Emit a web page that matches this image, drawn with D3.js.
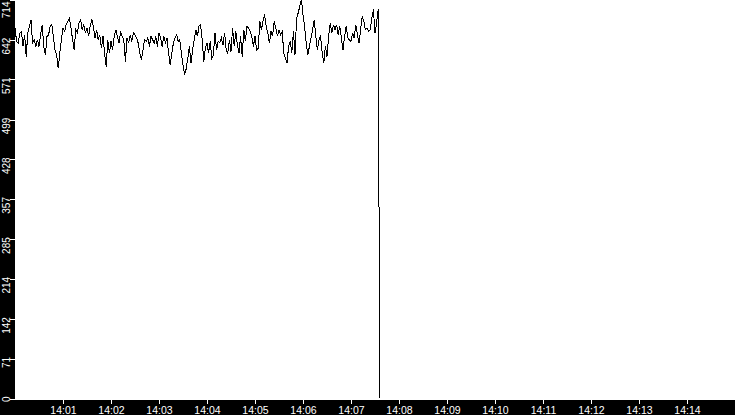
<!DOCTYPE html>
<html>
<head>
<meta charset="utf-8">
<script src="https://cdn.jsdelivr.net/npm/d3@7"></script>
<style>
  html, body { margin: 0; padding: 0; background: #fff; }
  svg { display: block; }
</style>
</head>
<body>
<svg id="chart" width="735" height="415"></svg>
<script>
// ---- data ----
const startTime = "14:00:00";
const sampleSeconds = 2;
const values = [
  663,639,636,654,657,630,651,612,654,666,
  677,636,642,630,642,630,651,669,630,615,
  648,651,666,669,648,624,615,591,618,642,
  663,657,669,675,681,663,642,624,660,654,
  672,678,660,669,654,663,648,666,679,666,
  645,660,642,651,627,648,618,594,642,618,
  639,624,648,660,648,636,657,648,642,603,
  645,636,651,639,654,651,
  645,636,618,606,624,642,639,645,630,648,
  642,636,648,630,654,645,630,648,636,645,
  618,597,618,636,645,651,639,642,618,597,
  579,590,609,630,600,624,642,660,648,666,669,
  642,603,627,636,618,639,609,615,654,624,
  639,636,645,633,654,624,618,642,621,663,
  630,657,633,618,648,612,660,639,667,662,657,
  648,630,648,624,
  627,675,660,675,687,666,654,636,657,648,
  675,663,648,660,651,657,618,609,600,630,
  639,618,657,615,681,690,702,714,687,666,
  636,615,630,645,660,678,648,624,642,648,
  618,600,630,612,648,672,654,669,660,669,
  651,666,645,624,648,666,645,642,639,654,
  645,669,651,636,660,684,675,660,663,657,
  660,681,696,654,672,697,
  0
];
const yTicks = [0,71,142,214,285,357,428,499,571,642,714];
const xTickLabels = ["14:01","14:02","14:03","14:04","14:05","14:06","14:07","14:08","14:09","14:10","14:11","14:12","14:13","14:14"];
const xDomainLabels = ["14:00","14:15"];

// ---- build ----
const parse = s => {
  const p = s.split(":").map(Number);
  return new Date(2020, 0, 1, p[0], p[1], p[2] || 0);
};
const t0 = parse(startTime);
const data = values.map((v, i) => ({ t: new Date(t0.getTime() + i * sampleSeconds * 1000), v }));

const W = 735, H = 415;
const left = 15, bottom = 400;

const svg = d3.select("#chart");

const x = d3.scaleTime()
  .domain(xDomainLabels.map(parse))
  .range([left, W]);
const y = d3.scaleLinear()
  .domain([0, 714])
  .range([398.5, -0.5]);

// black bands
svg.append("rect").attr("x", 0).attr("y", 0).attr("width", left).attr("height", H).attr("fill", "#000");
svg.append("rect").attr("x", 0).attr("y", bottom).attr("width", W).attr("height", H - bottom).attr("fill", "#000");

// line
const line = d3.line().x(d => x(d.t)).y(d => y(d.v));
svg.append("path")
  .datum(data)
  .attr("d", line)
  .attr("fill", "none")
  .attr("stroke", "#000")
  .attr("stroke-width", 1)
  .attr("shape-rendering", "crispEdges");

// x axis
const xAxis = d3.axisBottom(x)
  .tickValues(xTickLabels.map(parse))
  .tickFormat(d3.timeFormat("%H:%M"))
  .tickSize(4)
  .tickSizeOuter(0)
  .tickPadding(2);
const gx = svg.append("g").attr("transform", `translate(0,${bottom})`).call(xAxis);
gx.select(".domain").remove();
gx.selectAll(".tick line").attr("stroke", "#fff").attr("shape-rendering", "crispEdges");
gx.selectAll(".tick text")
  .attr("fill", "#fff")
  .attr("font-family", "Liberation Sans, Arial, sans-serif")
  .attr("font-size", 10.5)
  .attr("dy", null)
  .attr("y", 14);

// y axis
const yAxis = d3.axisLeft(y)
  .tickValues(yTicks)
  .tickFormat(d3.format("d"))
  .tickSize(5)
  .tickSizeOuter(0);
const gy = svg.append("g").attr("transform", `translate(${left},0)`).call(yAxis);
gy.select(".domain").remove();
gy.selectAll(".tick line").attr("stroke", "#fff").attr("shape-rendering", "crispEdges");
gy.selectAll(".tick text")
  .attr("fill", "#fff")
  .attr("font-family", "Liberation Sans, Arial, sans-serif")
  .attr("font-size", 10)
  .attr("x", null)
  .attr("dy", null)
  .attr("text-anchor", "end")
  .attr("transform", d => {
    // keep the top label inside the picture
    const shift = (y(d) - 2.5 < 1) ? (1 - y(d)) : -2.5;
    return `translate(-5,${shift}) rotate(-90)`;
  });
</script>
</body>
</html>
